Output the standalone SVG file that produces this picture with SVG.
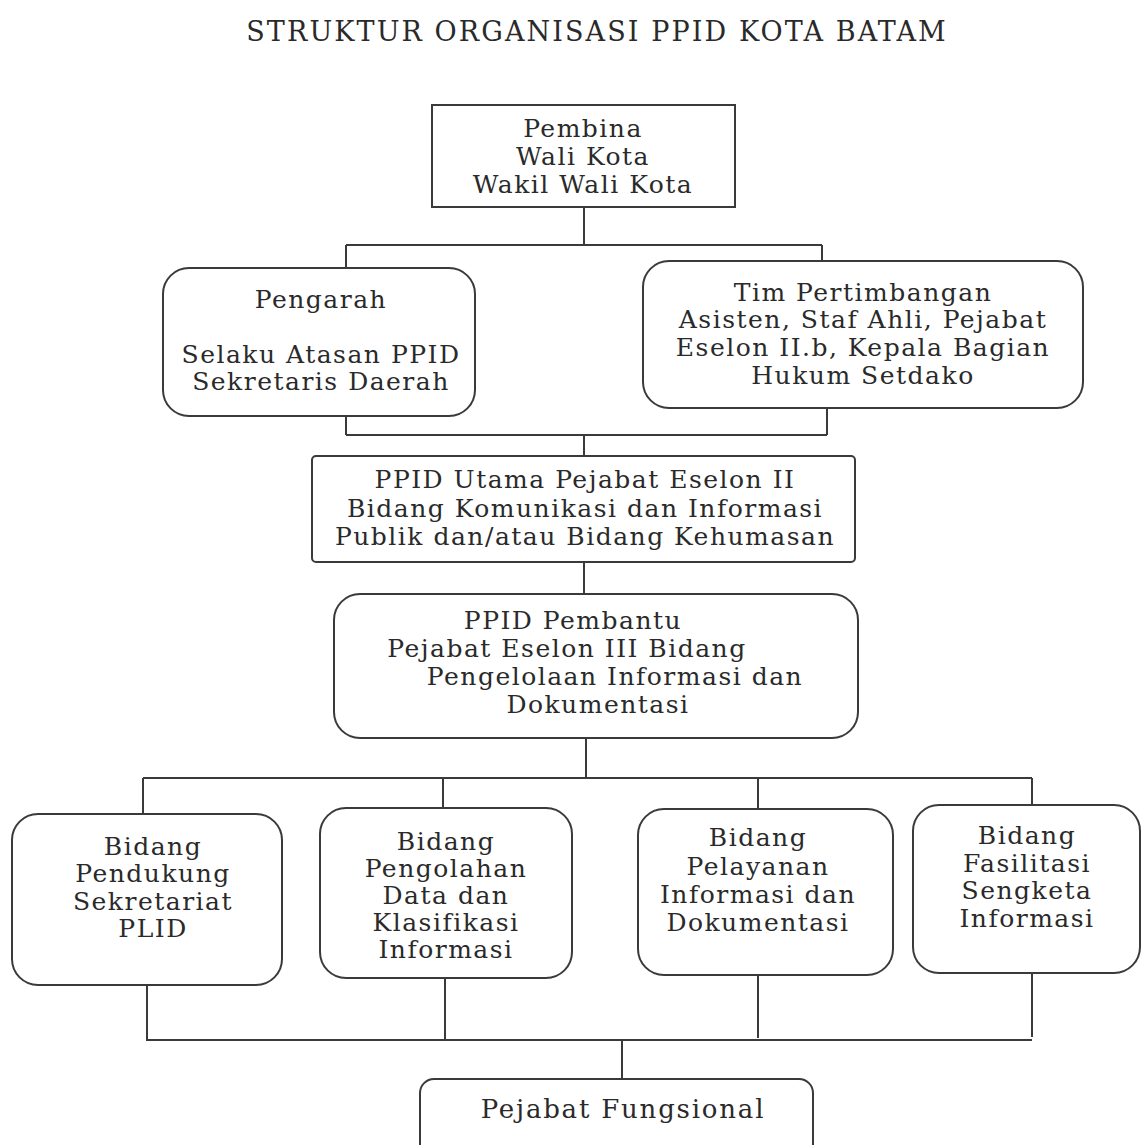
<svg xmlns="http://www.w3.org/2000/svg" width="1141" height="1145" viewBox="0 0 1141 1145">
<style>
.box{fill:#fff;stroke:#3a3a3a;stroke-width:2}
.ln{fill:none;stroke:#3a3a3a;stroke-width:2}
text{font-family:"DejaVu Serif","Liberation Serif",serif;font-size:25px;letter-spacing:1.5px;fill:#2a2a2a;text-anchor:middle}
.title{font-size:27px;letter-spacing:2.1px}
.big{font-size:26px;letter-spacing:1.8px}
</style>
<rect width="1141" height="1145" fill="#fff"/>
<text class="title" x="597" y="41">STRUKTUR ORGANISASI PPID KOTA BATAM</text>
<g id="connectors">
<path class="ln" d="M584 207V245M346 245H822M346 245V268M822 245V261"/>
<path class="ln" d="M346 416V435M827 408V435M346 435H827M584 435V456"/>
<path class="ln" d="M584 562V594"/>
<path class="ln" d="M586 738V778M143 778H1032M143 778V814M443 778V809M758 778V809M1032 778V805"/>
<path class="ln" d="M147 985V1041M445 978V1040M758 975V1038M1032 973V1037M147 1040H1032M622 1039V1079"/>
</g>
<g id="pembina">
<rect class="box" x="432" y="105" width="303" height="102"/>
<text x="583" y="137">Pembina</text>
<text x="583" y="165">Wali Kota</text>
<text x="583" y="193">Wakil Wali Kota</text>
</g>
<g id="pengarah">
<rect class="box" x="163" y="268" width="312" height="148" rx="26"/>
<text x="321" y="308">Pengarah</text>
<text x="321" y="363">Selaku Atasan PPID</text>
<text x="321" y="390">Sekretaris Daerah</text>
</g>
<g id="tim-pertimbangan">
<rect class="box" x="643" y="261" width="440" height="147" rx="26"/>
<text x="863" y="301">Tim Pertimbangan</text>
<text x="863" y="328">Asisten, Staf Ahli, Pejabat</text>
<text x="863" y="356">Eselon II.b, Kepala Bagian</text>
<text x="863" y="384">Hukum Setdako</text>
</g>
<g id="ppid-utama">
<rect class="box" x="312" y="456" width="543" height="106" rx="4"/>
<text x="585" y="488">PPID Utama Pejabat Eselon II</text>
<text x="585" y="517">Bidang Komunikasi dan Informasi</text>
<text x="585" y="545">Publik dan/atau Bidang Kehumasan</text>
</g>
<g id="ppid-pembantu">
<rect class="box" x="334" y="594" width="524" height="144" rx="26"/>
<text x="573" y="629">PPID Pembantu</text>
<text x="567" y="657">Pejabat Eselon III Bidang</text>
<text x="615" y="685">Pengelolaan Informasi dan</text>
<text x="598" y="713">Dokumentasi</text>
</g>
<g id="bidang-pendukung">
<rect class="box" x="12" y="814" width="270" height="171" rx="26"/>
<text x="153" y="855">Bidang</text>
<text x="153" y="882">Pendukung</text>
<text x="153" y="910">Sekretariat</text>
<text x="153" y="937">PLID</text>
</g>
<g id="bidang-pengolahan">
<rect class="box" x="320" y="808" width="252" height="170" rx="26"/>
<text x="446" y="850">Bidang</text>
<text x="446" y="877">Pengolahan</text>
<text x="446" y="904">Data dan</text>
<text x="446" y="931">Klasifikasi</text>
<text x="446" y="958">Informasi</text>
</g>
<g id="bidang-pelayanan">
<rect class="box" x="638" y="809" width="255" height="166" rx="26"/>
<text x="758" y="846">Bidang</text>
<text x="758" y="875">Pelayanan</text>
<text x="758" y="903">Informasi dan</text>
<text x="758" y="931">Dokumentasi</text>
</g>
<g id="bidang-fasilitasi">
<rect class="box" x="913" y="805" width="227" height="168" rx="26"/>
<text x="1027" y="844">Bidang</text>
<text x="1027" y="872">Fasilitasi</text>
<text x="1027" y="899">Sengketa</text>
<text x="1027" y="927">Informasi</text>
</g>
<g id="pejabat-fungsional">
<rect class="box" x="420" y="1079" width="393" height="90" rx="14"/>
<text class="big" x="623" y="1118">Pejabat Fungsional</text>
</g>
</svg>
